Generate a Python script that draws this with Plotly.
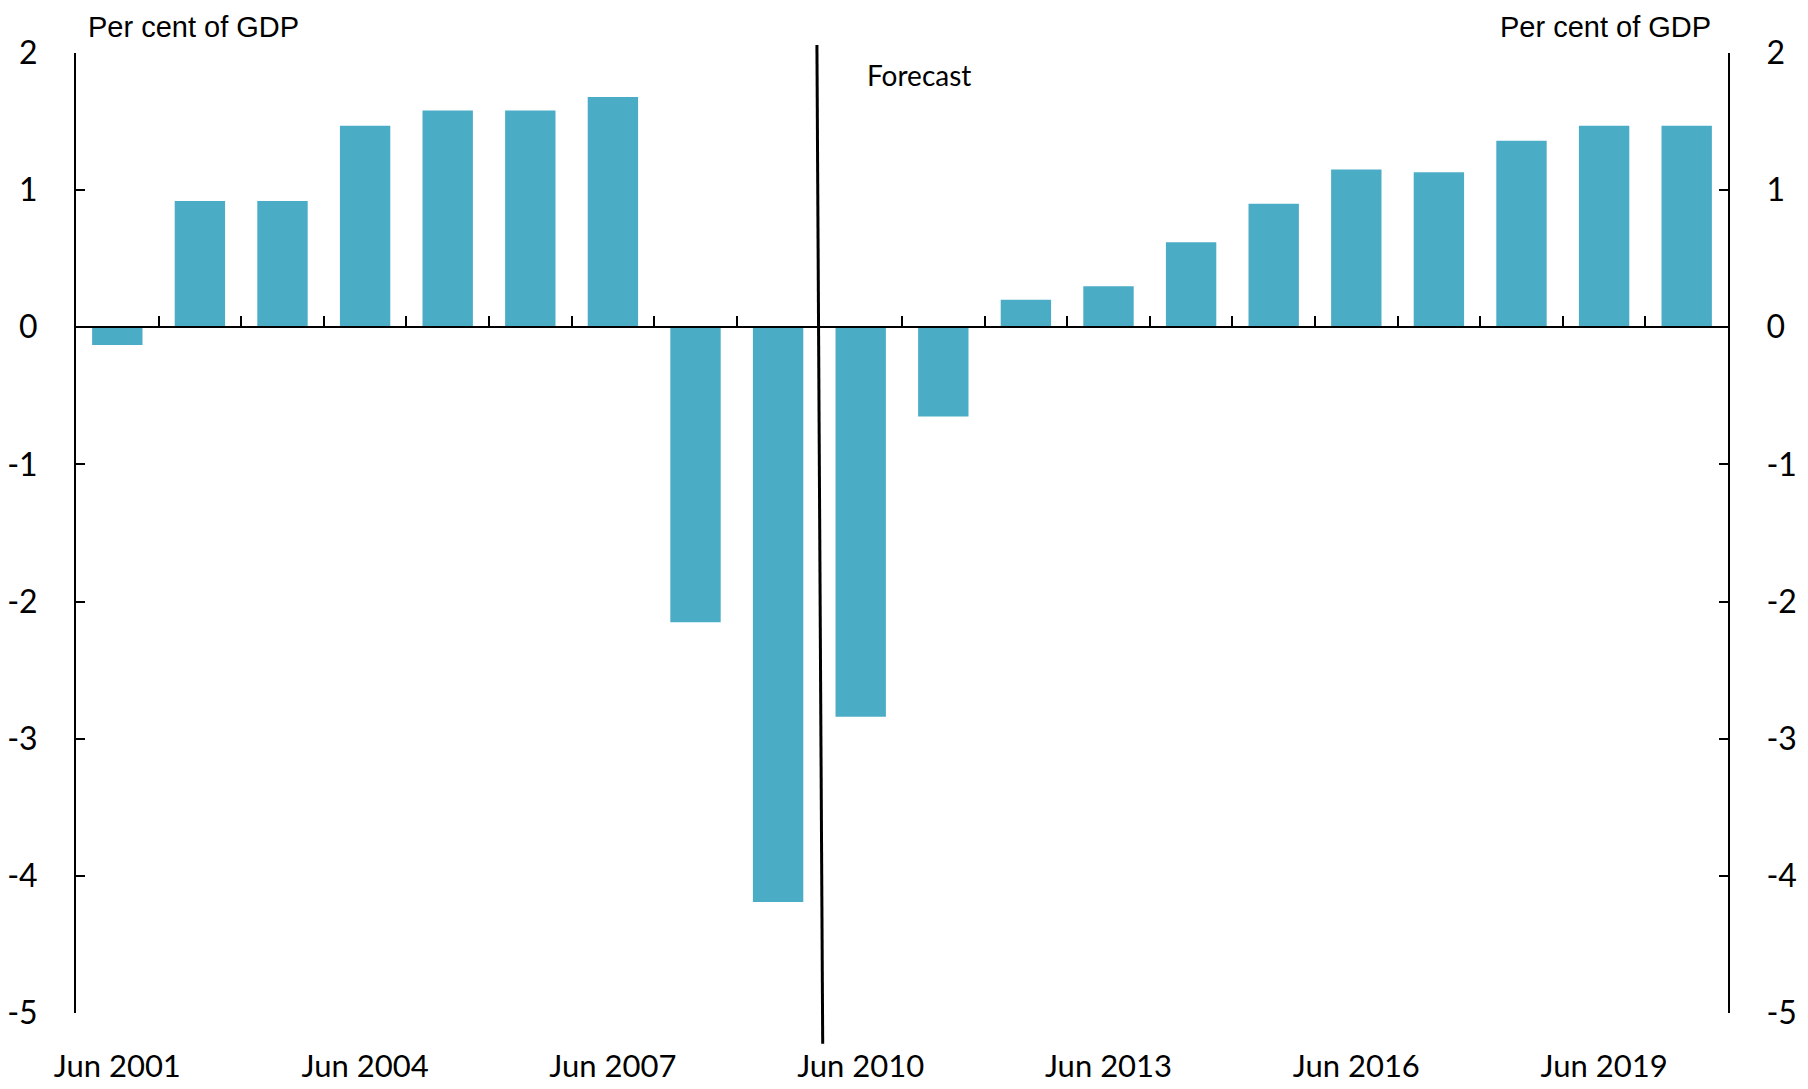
import plotly.graph_objects as go

# financial years ending June
years = ["Jun 2001", "Jun 2002", "Jun 2003", "Jun 2004", "Jun 2005",
         "Jun 2006", "Jun 2007", "Jun 2008", "Jun 2009", "Jun 2010",
         "Jun 2011", "Jun 2012", "Jun 2013", "Jun 2014", "Jun 2015",
         "Jun 2016", "Jun 2017", "Jun 2018", "Jun 2019", "Jun 2020"]
balance = [-0.13, 0.92, 0.92, 1.47, 1.58, 1.58, 1.68, -2.15, -4.19, -2.84,
           -0.65, 0.20, 0.30, 0.62, 0.90, 1.15, 1.13, 1.36, 1.47, 1.47]
x_ticks = ["Jun 2001", "Jun 2004", "Jun 2007", "Jun 2010",
           "Jun 2013", "Jun 2016", "Jun 2019"]
y_ticks = [2, 1, 0, -1, -2, -3, -4, -5]
y_labels = ["2", "1", "0", "-1", "-2", "-3", "-4", "-5"]
forecast_from = 8.5   # boundary between Jun 2009 and Jun 2010

BAR = "#4BACC6"
TICKFONT = dict(family="Lato, Open Sans, sans-serif", size=32, color="black")
XTICKFONT = dict(family="Lato, Open Sans, sans-serif", size=31, color="black")
TITLEFONT = dict(family="Liberation Sans, Arial, sans-serif", size=29, color="black")

fig = go.Figure()
fig.add_trace(go.Bar(x=years, y=balance, marker=dict(color=BAR, line=dict(width=0)),
                     hoverinfo="x+y"))
# invisible copy on the secondary axes so the right axis / zero axis are drawn
fig.add_trace(go.Scatter(x=years, y=balance, xaxis="x2", yaxis="y2", mode="markers",
                         marker=dict(opacity=0), hoverinfo="skip", showlegend=False))

yrange = [-5, 2]
fig.update_layout(
    width=1800, height=1081,
    plot_bgcolor="white", paper_bgcolor="white",
    showlegend=False,
    bargap=0.39,
    margin=dict(l=68, r=80, t=45, b=76, autoexpand=False),
    xaxis=dict(type="category", categoryarray=years, range=[-0.5, 19.5],
               tickvals=x_ticks, ticktext=x_ticks, showline=False, showgrid=False,
               ticks="", tickfont=XTICKFONT, ticklabelstandoff=32, zeroline=False),
    xaxis2=dict(type="category", categoryarray=years, range=[-0.5, 19.5],
                overlaying="x", anchor="free", position=5 / 7, side="bottom",
                showline=True, linecolor="black", linewidth=2,
                ticks="inside", ticklen=10, tickwidth=2, tickcolor="black",
                tickson="boundaries", showticklabels=False, showgrid=False),
    yaxis=dict(range=yrange, tickvals=y_ticks, ticktext=y_labels, showline=True,
               linecolor="black", linewidth=2, ticks="inside", ticklen=9, tickwidth=2,
               tickcolor="black", showgrid=False, zeroline=False, tickfont=TICKFONT,
               ticklabelstandoff=30),
    yaxis2=dict(range=yrange, tickvals=y_ticks, ticktext=y_labels, overlaying="y",
                side="right", anchor="x", showline=True, linecolor="black", linewidth=2,
                ticks="inside", ticklen=9, tickwidth=2, tickcolor="black",
                showgrid=False, zeroline=False, tickfont=TICKFONT, ticklabelstandoff=30),
)

# forecast divider
fig.add_shape(type="line", xref="x", yref="paper",
              x0=forecast_from - 0.03, x1=forecast_from + 0.04, y0=1.0083, y1=-0.032,
              line=dict(color="black", width=3))

fig.add_annotation(text="Forecast", xref="x", yref="paper", x=forecast_from + 0.55,
                   y=0.977, xanchor="left", yanchor="middle", showarrow=False,
                   font=dict(family="Lato, Open Sans, sans-serif", size=28, color="black"))
fig.add_annotation(text="Per cent of GDP", xref="paper", yref="paper", x=0.006, y=1.027,
                   xanchor="left", yanchor="middle", showarrow=False, font=TITLEFONT)
fig.add_annotation(text="Per cent of GDP", xref="paper", yref="paper", x=0.991, y=1.027,
                   xanchor="right", yanchor="middle", showarrow=False, font=TITLEFONT)

fig.write_html("out.html")
